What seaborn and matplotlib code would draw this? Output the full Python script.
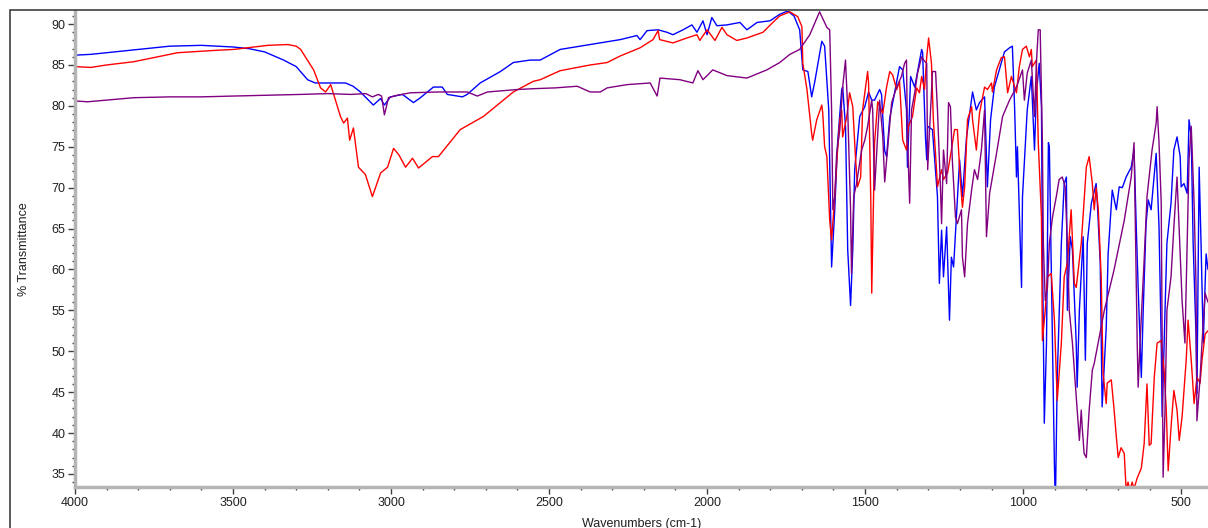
import matplotlib
matplotlib.use("Agg")
import matplotlib.pyplot as plt
from matplotlib.patches import Rectangle
from matplotlib.ticker import MultipleLocator
import seaborn as sns
import pandas as pd

# ---------------- data (wavenumber cm-1, % transmittance) ----------------
blue_wn = [4000, 3950, 3900, 3800, 3700, 3600, 3500, 3450, 3400, 3340, 3300, 3264, 3240, 3200, 3144, 3120,
           3097, 3056, 3033, 3021, 3002, 2964, 2929, 2907, 2866, 2838, 2822, 2774, 2759, 2718, 2654, 2613,
           2560, 2528, 2465, 2370, 2275, 2222, 2212, 2190, 2155, 2127, 2108, 2076, 2048, 2032, 2013, 2000,
           1985, 1969, 1937, 1896, 1874, 1842, 1801, 1770, 1745, 1725, 1707, 1697, 1681, 1669, 1659, 1637,
           1628, 1615, 1606, 1596, 1587, 1574, 1571, 1562, 1555, 1546, 1539, 1533, 1517, 1501, 1489, 1479,
           1470, 1454, 1448, 1438, 1432, 1422, 1391, 1381, 1369, 1366, 1356, 1343, 1321, 1318, 1309, 1305,
           1302, 1287, 1271, 1265, 1258, 1252, 1242, 1233, 1227, 1220, 1201, 1192, 1179, 1160, 1148, 1138,
           1122, 1113, 1103, 1091, 1059, 1043, 1034, 1027, 1021, 1018, 1009, 1005, 1002, 987, 974, 964,
           958, 949, 942, 939, 933, 926, 920, 917, 907, 901, 898, 892, 879, 870, 863, 860, 851, 844, 832,
           829, 822, 810, 803, 797, 784, 769, 765, 756, 750, 737, 731, 718, 705, 696, 686, 674, 658, 649,
           642, 636, 626, 620, 611, 604, 595, 579, 570, 563, 560, 551, 545, 532, 523, 513, 503, 500, 491,
           481, 475, 468, 462, 453, 450, 443, 437, 430, 421, 415]
blue_t = [86.2, 86.3, 86.5, 86.9, 87.3, 87.4, 87.2, 87.0, 86.6, 85.6, 84.8, 83.2, 82.8, 82.8, 82.8, 82.4,
          81.7, 80.1, 80.9, 80.1, 81.1, 81.4, 80.4, 81.0, 82.3, 82.3, 81.4, 81.1, 81.4, 82.8, 84.2, 85.3,
          85.6, 85.6, 86.9, 87.5, 88.1, 88.6, 88.1, 89.2, 89.3, 89.0, 88.7, 89.3, 89.9, 89.0, 90.4, 88.7,
          90.8, 89.8, 89.9, 90.2, 89.3, 90.2, 90.4, 91.2, 91.6, 91.0, 89.3, 84.4, 84.2, 81.1, 83.0, 87.9,
          87.3, 79.5, 60.3, 67.3, 75.5, 82.0, 82.3, 77.5, 62.4, 55.6, 62.4, 72.2, 78.7, 79.9, 81.7, 80.7,
          80.7, 82.0, 81.4, 74.5, 73.8, 78.5, 84.8, 84.4, 79.5, 72.5, 83.6, 82.3, 86.9, 86.5, 76.2, 73.4,
          77.5, 77.1, 68.9, 58.3, 64.8, 59.1, 65.2, 53.8, 61.5, 60.3, 73.4, 68.9, 76.2, 81.7, 79.5, 80.4,
          81.1, 70.1, 78.3, 82.3, 86.6, 87.1, 87.3, 79.9, 71.3, 75.0, 63.2, 57.8, 68.9, 79.5, 83.6, 74.6,
          81.6, 85.2, 79.9, 63.2, 41.2, 51.0, 75.5, 75.0, 51.0, 36.2, 31.0, 46.8, 63.2, 70.5, 71.3, 55.0,
          64.0, 62.4, 51.0, 45.6, 55.0, 64.0, 48.9, 63.2, 68.1, 70.5, 68.0, 60.8, 43.2, 52.9, 61.9, 69.7,
          67.3, 70.1, 70.0, 71.3, 72.5, 74.6, 65.2, 57.8, 46.8, 55.0, 65.6, 68.5, 67.3, 74.2, 65.2, 51.0,
          42.0, 55.0, 63.2, 68.1, 74.6, 76.2, 73.8, 70.1, 70.5, 69.3, 78.3, 76.2, 63.2, 52.1, 44.8, 72.5,
          63.2, 51.0, 61.9, 60.0]

red_wn = [4000, 3950, 3900, 3814, 3675, 3550, 3498, 3390, 3327, 3300, 3286, 3245, 3223, 3207, 3191, 3160,
          3150, 3138, 3131, 3119, 3103, 3081, 3059, 3033, 3011, 2992, 2975, 2954, 2932, 2913, 2869, 2850,
          2781, 2740, 2708, 2654, 2613, 2550, 2528, 2465, 2370, 2316, 2275, 2212, 2171, 2155, 2150, 2108,
          2064, 2032, 2023, 2000, 1975, 1953, 1937, 1906, 1874, 1823, 1792, 1770, 1738, 1713, 1700, 1697,
          1684, 1669, 1666, 1653, 1637, 1634, 1628, 1621, 1612, 1606, 1596, 1590, 1580, 1574, 1571, 1558,
          1549, 1539, 1530, 1524, 1514, 1508, 1492, 1489, 1482, 1479, 1476, 1470, 1460, 1444, 1432, 1422,
          1413, 1400, 1391, 1381, 1369, 1363, 1350, 1337, 1328, 1321, 1312, 1305, 1299, 1290, 1284, 1274,
          1271, 1258, 1252, 1239, 1227, 1217, 1208, 1198, 1192, 1185, 1176, 1163, 1160, 1148, 1138, 1122,
          1113, 1100, 1097, 1084, 1069, 1059, 1049, 1037, 1021, 1012, 1002, 990, 980, 974, 971, 958, 952,
          942, 939, 930, 923, 911, 901, 892, 879, 870, 860, 848, 838, 832, 816, 800, 791, 781, 775, 769,
          762, 753, 747, 737, 734, 721, 712, 705, 699, 690, 680, 674, 668, 662, 655, 649, 639, 626, 617,
          608, 601, 595, 585, 576, 563, 554, 547, 541, 532, 523, 513, 506, 497, 484, 478, 468, 459, 450,
          440, 434, 424, 415]
red_t = [84.8, 84.7, 85.0, 85.4, 86.5, 86.8, 86.9, 87.4, 87.5, 87.3, 86.9, 84.4, 82.2, 81.7, 82.6, 78.7,
         77.9, 78.5, 75.8, 77.3, 72.5, 71.6, 68.9, 71.8, 72.5, 74.8, 74.0, 72.5, 73.6, 72.4, 73.8, 73.8,
         77.1, 78.0, 78.7, 80.4, 81.7, 83.0, 83.2, 84.3, 85.0, 85.3, 86.1, 87.1, 88.1, 89.2, 88.1, 87.7,
         88.3, 88.7, 88.0, 89.3, 88.0, 89.6, 88.7, 88.0, 88.3, 89.0, 90.2, 91.0, 91.5, 90.9, 89.7, 85.2,
         82.0, 76.6, 75.8, 78.3, 80.1, 79.1, 75.0, 73.8, 66.0, 63.6, 68.9, 73.0, 78.3, 79.5, 76.2, 78.7,
         81.6, 79.9, 73.4, 70.1, 71.3, 79.5, 84.2, 82.8, 68.5, 57.1, 63.2, 75.5, 80.5, 79.1, 82.3, 84.2,
         83.8, 82.0, 83.0, 75.8, 74.6, 77.5, 78.7, 82.2, 81.6, 83.6, 82.0, 86.0, 88.3, 85.2, 78.3, 72.2,
         70.1, 72.2, 71.0, 71.8, 74.6, 77.1, 77.1, 70.5, 67.6, 70.1, 78.3, 79.9, 78.3, 74.6, 79.1, 82.3,
         82.0, 82.8, 81.7, 84.4, 85.9, 86.0, 81.6, 83.6, 81.6, 84.8, 86.9, 87.3, 86.0, 86.9, 84.8, 85.6, 75.5,
         66.4, 51.3, 55.0, 59.1, 59.5, 53.8, 44.0, 51.0, 59.1, 60.8, 67.3, 58.3, 57.8, 63.2, 72.5, 73.8, 70.5,
         67.3, 70.0, 67.3, 59.1, 47.3, 43.6, 46.1, 46.5, 42.8, 39.5, 37.0, 38.2, 37.5, 33.0, 34.0, 33.0, 34.0,
         33.2, 34.5, 35.7, 38.7, 46.0, 38.5, 38.7, 46.8, 51.0, 51.3, 47.7, 42.8, 35.4, 40.7, 45.2, 42.8, 39.1,
         42.0, 48.9, 53.8, 48.9, 43.6, 46.8, 46.1, 48.9, 52.1, 52.5]

purple_wn = [4000, 3960, 3900, 3814, 3700, 3602, 3500, 3400, 3286, 3200, 3128, 3080, 3059, 3040, 3030, 3021,
             3008, 2980, 2939, 2850, 2759, 2727, 2695, 2600, 2550, 2480, 2411, 2370, 2338, 2316, 2253, 2180,
             2158, 2149, 2086, 2045, 2029, 2013, 1982, 1937, 1874, 1811, 1770, 1738, 1707, 1675, 1644, 1621,
             1612, 1606, 1602, 1596, 1590, 1580, 1571, 1562, 1555, 1546, 1543, 1536, 1527, 1511, 1501, 1492,
             1479, 1476, 1470, 1463, 1454, 1444, 1438, 1429, 1416, 1400, 1385, 1375, 1369, 1366, 1359, 1353,
             1343, 1334, 1321, 1315, 1305, 1302, 1296, 1290, 1287, 1277, 1271, 1262, 1258, 1252, 1242, 1236,
             1230, 1224, 1214, 1208, 1195, 1192, 1185, 1176, 1163, 1154, 1144, 1132, 1122, 1116, 1106, 1085,
             1065, 1043, 1021, 1002, 996, 987, 974, 964, 958, 952, 946, 939, 936, 930, 923, 917, 907, 895, 886,
             876, 867, 860, 854, 844, 835, 829, 822, 816, 813, 807, 800, 791, 781, 775, 743, 712, 680, 658,
             649, 639, 636, 630, 617, 608, 592, 579, 576, 570, 563, 560, 557, 551, 545, 532, 523, 513, 497,
             488, 481, 475, 468, 459, 453, 450, 440, 434, 424, 415]
purple_t = [80.6, 80.5, 80.7, 81.0, 81.1, 81.1, 81.2, 81.3, 81.4, 81.5, 81.4, 81.5, 81.1, 81.4, 81.2, 78.9,
            81.0, 81.3, 81.6, 81.7, 81.7, 81.2, 81.7, 82.0, 82.1, 82.2, 82.4, 81.7, 81.7, 82.2, 82.6, 82.8,
            81.2, 83.4, 83.2, 82.8, 84.3, 83.2, 84.4, 83.7, 83.4, 84.4, 85.3, 86.3, 86.9, 88.7, 91.5, 89.6,
            89.3, 79.5, 67.3, 68.9, 74.2, 77.1, 82.3, 85.6, 79.5, 67.3, 59.5, 68.9, 70.5, 74.6, 75.8, 77.5,
            80.7, 79.5, 69.7, 74.6, 80.7, 76.2, 70.7, 74.6, 80.4, 82.3, 83.6, 85.2, 85.6, 76.2, 68.1, 79.5,
            81.6, 84.0, 86.0, 85.6, 85.2, 72.2, 77.1, 81.6, 84.2, 84.2, 79.5, 70.5, 65.6, 74.6, 70.5, 80.4,
            79.9, 73.4, 66.4, 65.6, 67.3, 61.5, 59.1, 65.6, 69.7, 72.2, 71.0, 74.6, 79.5, 64.0, 69.3, 74.0,
            78.7, 80.7, 82.3, 84.4, 80.7, 84.0, 85.6, 78.7, 85.2, 89.3, 89.3, 75.5, 63.2, 56.2, 57.8, 63.2,
            66.4, 68.9, 71.0, 71.3, 70.1, 63.2, 55.0, 51.0, 46.1, 42.8, 39.1, 42.8, 40.7, 37.5, 37.0, 42.8,
            47.7, 48.5, 55.0, 60.0, 66.0, 71.3, 75.5, 51.0, 45.6, 51.0, 61.2, 68.9, 74.6, 77.9, 79.9, 75.5,
            68.1, 51.0, 34.6, 42.8, 55.0, 59.1, 65.2, 71.3, 56.2, 51.0, 63.2, 73.4, 77.5, 68.1, 58.3, 41.5,
            46.8, 51.0, 57.1, 56.0]

series_colors = {"blue": "#0000FF", "red": "#FF0000", "purple": "#800080"}
x_major_ticks = [4000, 3500, 3000, 2500, 2000, 1500, 1000, 500]
y_major_ticks = [35, 40, 45, 50, 55, 60, 65, 70, 75, 80, 85, 90]

# ---------------- figure ----------------
sns.set_theme(style="white")
plt.rcParams["font.family"] = ["Liberation Sans", "DejaVu Sans"]

fig = plt.figure(figsize=(12.08, 5.28), dpi=100)
ax = fig.add_axes([75 / 1208, 1 - 487 / 528, 1 - 75 / 1208, (487 - 11) / 528])

frames = []
for name, wn, t in (("blue", blue_wn, blue_t), ("red", red_wn, red_t), ("purple", purple_wn, purple_t)):
    frames.append(pd.DataFrame({"wn": wn, "T": t, "series": name}))
df = pd.concat(frames, ignore_index=True)

for name in ["blue", "red", "purple"]:
    sub = df[df["series"] == name]
    sns.lineplot(data=sub, x="wn", y="T", ax=ax, color=series_colors[name],
                 linewidth=1.0, estimator=None, sort=True, legend=False)

ax.set_xlim(4000, 415)
ax.set_ylim(33.4, 91.6)
ax.set_xticks(x_major_ticks)
ax.set_yticks(y_major_ticks)
ax.xaxis.set_minor_locator(MultipleLocator(100))
ax.yaxis.set_minor_locator(MultipleLocator(1))

for side in ["top", "right"]:
    ax.spines[side].set_visible(False)
for side in ["left", "bottom"]:
    ax.spines[side].set_color("#b4b4b4")
    ax.spines[side].set_linewidth(2.5)

ax.tick_params(axis="both", which="major", direction="out", length=5, width=1,
               color="#404040", labelsize=9, labelcolor="#202020", pad=2)
ax.tick_params(axis="both", which="minor", direction="out", length=2.5, width=1,
               color="#404040")
ax.tick_params(axis="x", which="both", bottom=True)
ax.tick_params(axis="y", which="both", left=True)

ax.set_xlabel("Wavenumbers (cm-1)", fontsize=9, color="#202020", labelpad=7)
ax.set_ylabel("% Transmittance", fontsize=9, color="#202020", labelpad=15)
ax.grid(False)

# outer frame of the window
fig.patches.append(Rectangle((10 / 1208, -0.1), 2.0, 1 - 10 / 528 + 0.1,
                             transform=fig.transFigure, fill=False,
                             edgecolor="#404040", linewidth=1.2, zorder=0))

fig.savefig("out.png", dpi=100)
